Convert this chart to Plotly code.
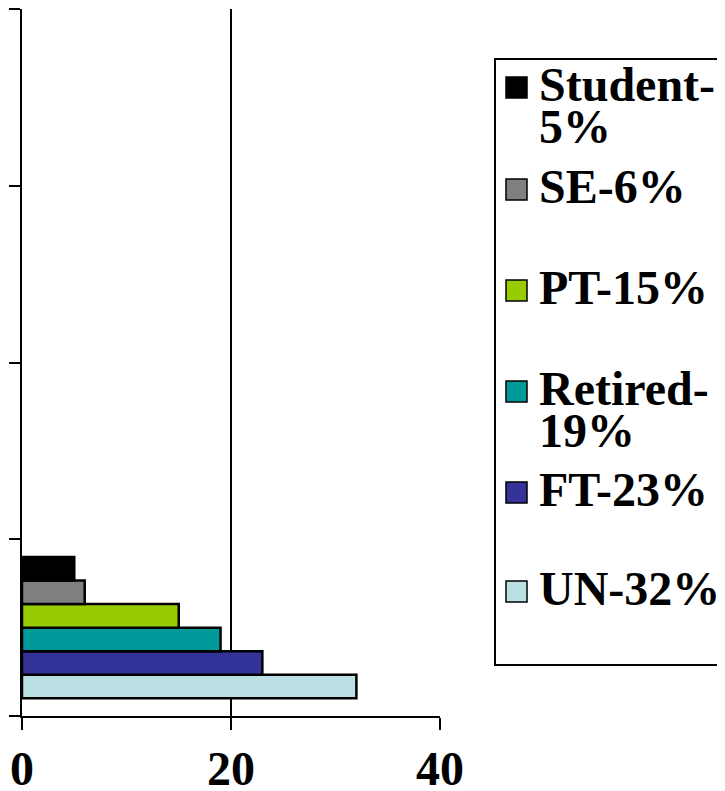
import plotly.graph_objects as go

# Data
series_names = ["UN", "FT", "Retired", "PT", "SE", "Student"]
series_values = [32, 23, 19, 15, 6, 5]
series_colors = ["#BBE0E3", "#333399", "#009999", "#99CC00", "#808080", "#000000"]
legend_labels = ["UN-32%", "FT-23%", "Retired-<br>19%", "PT-15%", "SE-6%", "Student-<br>5%"]
x_ticks = [0, 20, 40]

# page body has an 8px margin; compensate so the plot lands at the reference's pixels
OFF = 8
W, H = 725 - OFF, 791 - OFF
L, R, T, B = 22 - OFF, 285, 9 - OFF, 75
PW, PH = W - L - R, H - T - B

FONT = "Liberation Serif, Times New Roman, serif"

fig = go.Figure()
for name, val, col in zip(series_names, series_values, series_colors):
    fig.add_trace(go.Bar(
        y=[0], x=[val], name=name, orientation="h",
        marker=dict(color=col, line=dict(color="black", width=2.5)),
        showlegend=False,
    ))

def px_to_paper(px, py):
    # px, py are page pixels of the reference picture
    fx, fy = px - OFF, py - OFF
    return (fx - L) / PW, (H - B - fy) / PH

shapes = []
annotations = []
bx0, by0 = px_to_paper(495, 665)
bx1, by1 = px_to_paper(760, 59)
shapes.append(dict(type="rect", xref="paper", yref="paper", x0=bx0, y0=by0, x1=bx1, y1=by1,
                   line=dict(color="black", width=2), fillcolor="rgba(0,0,0,0)", layer="above"))

sq_centers = [88, 190, 291, 392, 493, 592]
order = list(range(len(series_names)))[::-1]
for slot, idx in enumerate(order):
    cy = sq_centers[slot]
    x0, y0 = px_to_paper(506, cy + 10)
    x1, y1 = px_to_paper(527, cy - 11)
    shapes.append(dict(type="rect", xref="paper", yref="paper", x0=x0, y0=y0, x1=x1, y1=y1,
                       line=dict(color="black", width=1.5), fillcolor=series_colors[idx], layer="above"))
    lines = legend_labels[idx].split("<br>")
    for li, txt in enumerate(lines):
        tx, ty = px_to_paper(537, cy - 4 + li * 43)
        annotations.append(dict(x=tx, y=ty, xref="paper", yref="paper", text=txt,
                                showarrow=False, xanchor="left", yanchor="middle",
                                font=dict(family=FONT, size=48, color="black", weight="bold")))

fig.update_layout(
    width=W, height=H,
    margin=dict(l=L, r=R, t=T, b=B, pad=0),
    paper_bgcolor="white", plot_bgcolor="white",
    barmode="group", bargap=0.2, bargroupgap=0,
    shapes=shapes, annotations=annotations,
    showlegend=False,
    template="none",
)
fig.update_xaxes(
    range=[0, 40], tickvals=x_ticks, ticktext=[str(v) for v in x_ticks],
    showgrid=True, gridcolor="black", gridwidth=2,
    showline=True, linecolor="black", linewidth=2,
    ticks="outside", ticklen=12, tickwidth=2, tickcolor="black",
    ticklabelstandoff=-3,
    zeroline=False, automargin=False,
    tickfont=dict(family=FONT, size=48, color="black", weight="bold"),
)
fig.update_yaxes(
    range=[-0.5, 3.5], tickvals=[-0.5, 0.5, 1.5, 2.5, 3.5], showticklabels=False,
    showgrid=False, zeroline=False,
    showline=True, linecolor="black", linewidth=2,
    ticks="outside", ticklen=11, tickwidth=2, tickcolor="black",
    automargin=False,
)

fig.write_html("out.html")
